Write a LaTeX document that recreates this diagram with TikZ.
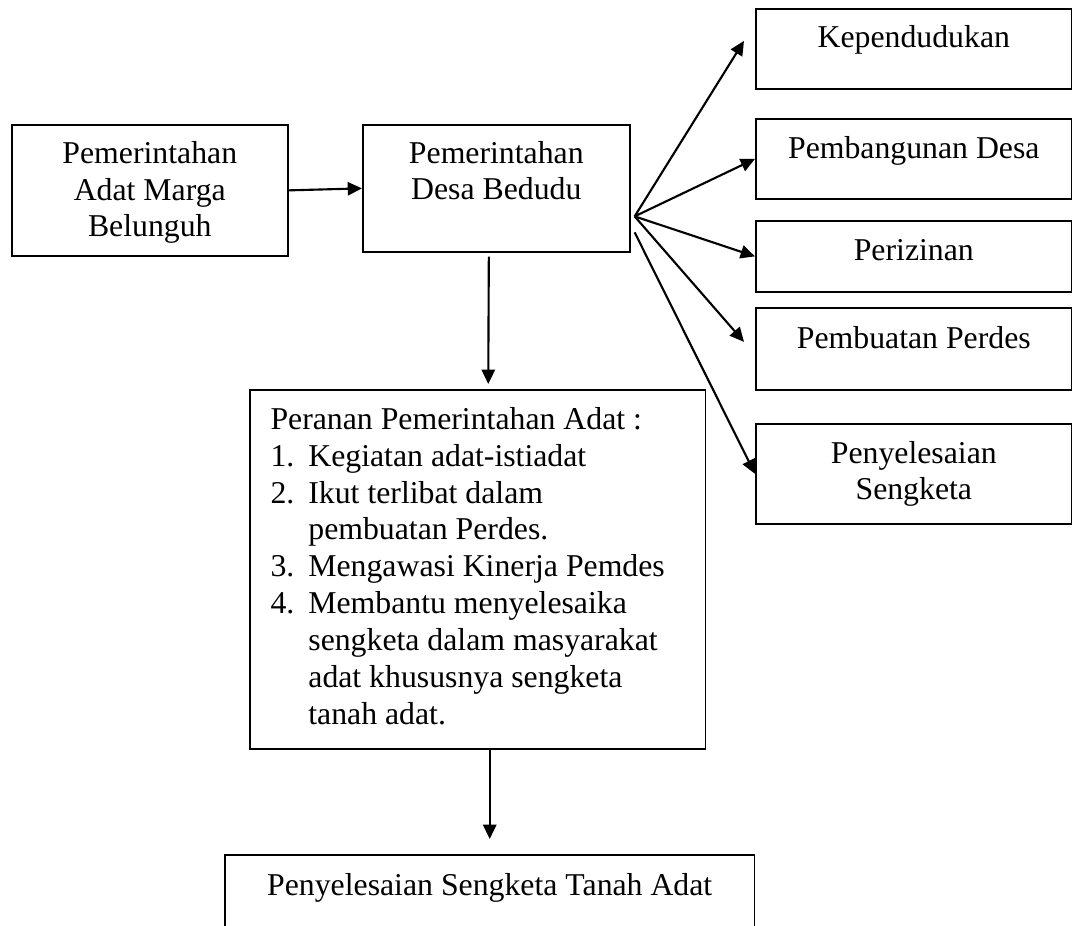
\documentclass[tikz,border=0pt]{standalone}
\usepackage{fontspec}
\setmainfont{Liberation Serif}
\usepackage{tikz}
\usetikzlibrary{arrows.meta}

\newdimen\pxu
\pxu=0.3774pt

\tikzset{
  kotak/.style={draw, line width=0.7pt, inner sep=0pt, anchor=north west},
  teks/.style={font=\fontsize{12}{13.9}\selectfont, align=center, anchor=base, inner sep=0pt},
  panah/.style={line width=0.8pt, -{Triangle[length=5.4pt,width=5pt]}}
}

\begin{document}
\begin{tikzpicture}[x=0.01327cm, y=-0.01327cm]
    \useasboundingbox (0,0) rectangle (1072,926);

    % 左边两个框
    \node[kotak, minimum width=276*\pxu, minimum height=131*\pxu] (adat) at (11,124) {};
    \node[kotak, minimum width=267*\pxu, minimum height=127*\pxu] (desa) at (362,124) {};
    \node[teks] (tadat) at ([shift={(0,113)}]adat.north) {Pemerintahan\\Adat Marga\\Belunguh};
    \node[teks] (tdesa) at ([shift={(0,76)}]desa.north) {Pemerintahan\\Desa Bedudu};

    % 右边五个框
    \node[kotak, minimum width=316*\pxu, minimum height=80*\pxu] (kep) at (755,8) {};
    \node[kotak, minimum width=316*\pxu, minimum height=80*\pxu] (bang) at (755,118) {};
    \node[kotak, minimum width=316*\pxu, minimum height=71*\pxu] (izin) at (755,220) {};
    \node[kotak, minimum width=316*\pxu, minimum height=82*\pxu] (perdes) at (755,307) {};
    \node[kotak, minimum width=316*\pxu, minimum height=100*\pxu] (sengketa) at (755,423) {};
    \node[teks] (tkep) at ([shift={(0,40)}]kep.north) {Kependudukan};
    \node[teks] (tbang) at ([shift={(0,41)}]bang.north) {Pembangunan Desa};
    \node[teks] (tizin) at ([shift={(0,41)}]izin.north) {Perizinan};
    \node[teks] (tperdes) at ([shift={(0,42)}]perdes.north) {Pembuatan Perdes};
    \node[teks] (tsengketa) at ([shift={(0,77)}]sengketa.north) {Penyelesaian\\Sengketa};

    % 中间和下面的框
    \node[kotak, minimum width=456*\pxu, minimum height=359*\pxu] (peran) at (249,389) {};
    \node[kotak, minimum width=530*\pxu, minimum height=120*\pxu] (tanah) at (224,854) {};
    \node[teks, align=left, anchor=base west] (tperan) at ([shift={(21,335)}]peran.north west)
      {Peranan Pemerintahan Adat :\\
       \makebox[14.3pt][l]{1.}Kegiatan adat-istiadat\\
       \makebox[14.3pt][l]{2.}Ikut terlibat dalam\\
       \hspace*{14.3pt}pembuatan Perdes.\\
       \makebox[14.3pt][l]{3.}Mengawasi Kinerja Pemdes\\
       \makebox[14.3pt][l]{4.}Membantu menyelesaika\\
       \hspace*{14.3pt}sengketa dalam masyarakat\\
       \hspace*{14.3pt}adat khususnya sengketa\\
       \hspace*{14.3pt}tanah adat.};
    \node[teks] (ttanah) at ([shift={(0,41)}]tanah.north) {Penyelesaian Sengketa Tanah Adat};

    % 箭头
    \coordinate (cabang) at ([shift={(4,28)}]desa.east);
    \coordinate (cabang2) at ([shift={(4,44)}]desa.east);

    \draw[panah] (adat.east) -- (desa.west);
    \draw[panah] (cabang) -- ([shift={(-11,-8)}]kep.west);
    \draw[panah] (cabang) -- (bang.west);
    \draw[panah] (cabang) -- (izin.west);
    \draw[panah] (cabang) -- ([shift={(-11,-7)}]perdes.west);
    \draw[panah] (cabang2) -- (sengketa.west);
    \draw[panah] ([shift={(-7.5,4)}]desa.south) -- ([shift={(10.5,-5)}]peran.north);
    \draw[panah] (peran.south -| tanah.north) -- ([shift={(0,-15)}]tanah.north);

\end{tikzpicture}
\end{document}
